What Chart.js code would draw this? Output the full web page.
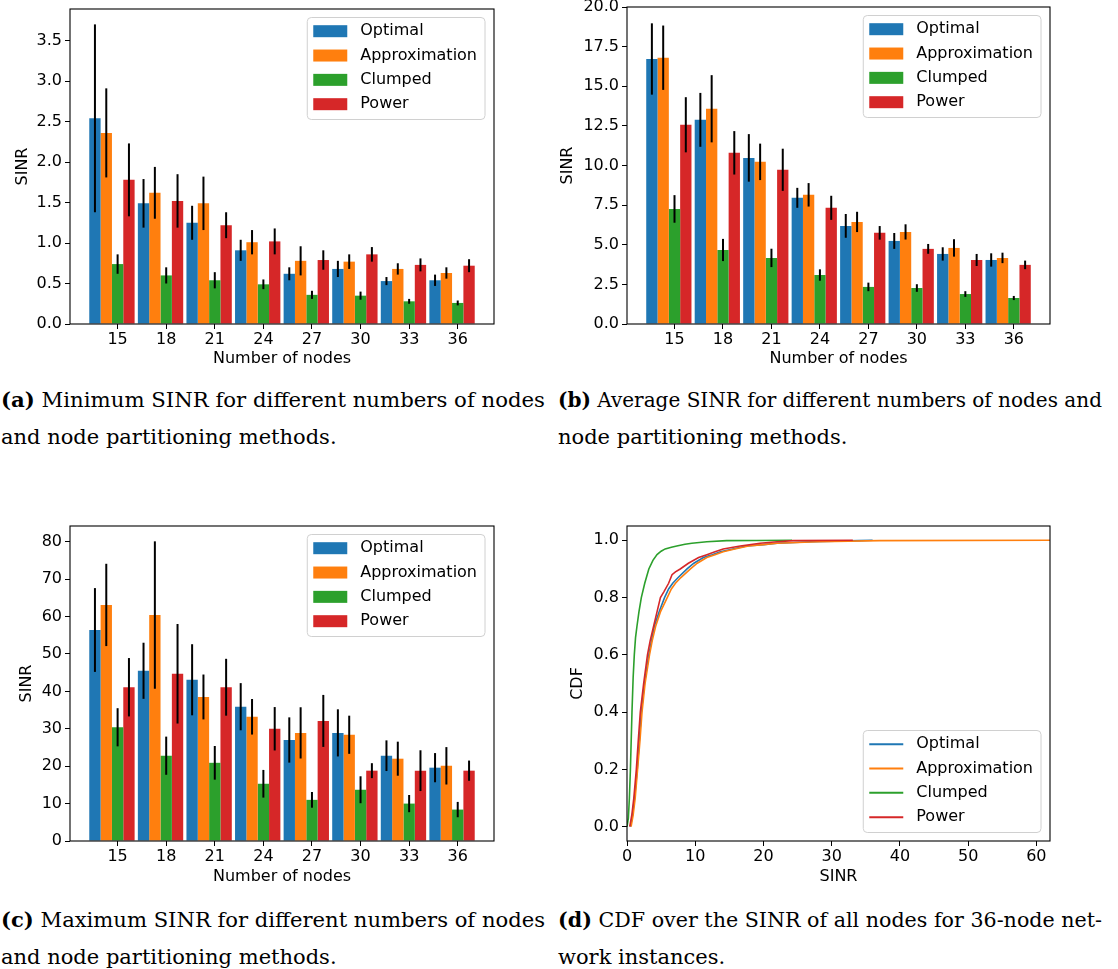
<!DOCTYPE html>
<html>
<head>
<meta charset="utf-8">
<script src="https://cdn.jsdelivr.net/npm/chart.js@4.4.0/dist/chart.umd.min.js"></script>
<style>
  html, body { margin: 0; padding: 0; background: #fff; }
  #page { position: relative; width: 1118px; height: 969px; overflow: hidden; }
  canvas { position: absolute; }
  .cap { position: absolute; font-family: 'DejaVu Serif', serif; font-size: 21px; line-height: 37px; color: #000; white-space: nowrap; }
  .cap .fit { display: inline-block; transform-origin: 0 50%; }
</style>
</head>
<body>
<div id="page">
  <canvas id="minChart" width="540" height="380" style="left:0;top:0"></canvas>
  <canvas id="avgChart" width="573" height="380" style="left:545px;top:0"></canvas>
  <canvas id="maxChart" width="540" height="395" style="left:0;top:500px"></canvas>
  <canvas id="cdfChart" width="573" height="395" style="left:545px;top:500px"></canvas>

  <div class="cap" style="left:1px;top:381px"><span class="fit"><b>(a)</b> Minimum SINR for different numbers of nodes</span><br>and node partitioning methods.</div>
  <div class="cap" style="left:558px;top:381px"><span class="fit"><b>(b)</b> Average SINR for different numbers of nodes and</span><br>node partitioning methods.</div>
  <div class="cap" style="left:1px;top:901px"><span class="fit"><b>(c)</b> Maximum SINR for different numbers of nodes</span><br>and node partitioning methods.</div>
  <div class="cap" style="left:558px;top:901px"><span class="fit"><b>(d)</b> CDF over the SINR of all nodes for 36-node net-</span><br>work instances.</div>
</div>
<script>
const nodeCounts = [15, 18, 21, 24, 27, 30, 33, 36];
const methods = ['Optimal', 'Approximation', 'Clumped', 'Power'];
const colors = ['#1f77b4', '#ff7f0e', '#2ca02c', '#d62728'];

// (a) minimum SINR, mean and error half-width
const minOptimal = [2.54, 1.49, 1.25, 0.91, 0.62, 0.68, 0.53, 0.54];
const minApprox  = [2.36, 1.62, 1.49, 1.01, 0.78, 0.77, 0.68, 0.63];
const minClumped = [0.74, 0.60, 0.54, 0.49, 0.36, 0.35, 0.28, 0.26];
const minPower   = [1.78, 1.52, 1.22, 1.02, 0.79, 0.86, 0.73, 0.72];
const minOptimalErr = [1.16, 0.30, 0.21, 0.13, 0.08, 0.10, 0.05, 0.07];
const minApproxErr  = [0.55, 0.32, 0.33, 0.15, 0.18, 0.09, 0.07, 0.07];
const minClumpedErr = [0.12, 0.10, 0.10, 0.06, 0.05, 0.05, 0.03, 0.03];
const minPowerErr   = [0.45, 0.33, 0.16, 0.16, 0.12, 0.09, 0.08, 0.08];

// (b) average SINR
const avgOptimal = [16.72, 12.88, 10.48, 7.96, 6.19, 5.24, 4.42, 4.04];
const avgApprox  = [16.80, 13.58, 10.23, 8.15, 6.44, 5.81, 4.80, 4.17];
const avgClumped = [7.26, 4.67, 4.17, 3.09, 2.34, 2.27, 1.89, 1.64];
const avgPower   = [12.57, 10.80, 9.73, 7.33, 5.75, 4.74, 4.04, 3.73];
const avgOptimalErr = [2.25, 1.70, 1.50, 0.63, 0.75, 0.50, 0.42, 0.42];
const avgApproxErr  = [2.03, 2.12, 1.15, 0.74, 0.64, 0.48, 0.55, 0.33];
const avgClumpedErr = [0.87, 0.70, 0.58, 0.36, 0.27, 0.24, 0.18, 0.13];
const avgPowerErr   = [1.74, 1.37, 1.33, 0.76, 0.43, 0.31, 0.38, 0.27];

// (c) maximum SINR
const maxOptimal = [56.4, 45.5, 43.1, 35.9, 27.0, 28.9, 22.8, 19.6];
const maxApprox  = [63.1, 60.4, 38.5, 33.2, 28.9, 28.4, 22.0, 20.1];
const maxClumped = [30.4, 22.8, 20.9, 15.3, 11.0, 13.7, 10.0, 8.4];
const maxPower   = [41.1, 44.7, 41.1, 30.0, 32.1, 18.8, 18.8, 18.8];
const maxOptimalErr = [11.2, 7.5, 9.5, 6.3, 6.05, 6.3, 4.1, 3.9];
const maxApproxErr  = [11.0, 19.7, 6.0, 4.75, 6.85, 5.1, 4.55, 5.0];
const maxClumpedErr = [5.1, 5.1, 4.5, 3.7, 2.1, 3.6, 2.3, 2.05];
const maxPowerErr   = [7.8, 13.3, 7.6, 5.8, 6.95, 2.0, 5.45, 2.7];

// (d) CDF of SINR, 36 nodes
const optimalSinr = [0.5, 0.8, 1.1, 1.5, 1.8, 2.1, 2.55, 3.2, 3.6, 4.0, 4.7, 5.5, 6.1, 6.7, 7.5, 8.8, 9.8, 11.2, 12.5, 13.7, 15.5, 17.5, 20.0, 22.0, 27.0, 34.0, 36.0];
const optimalCdf  = [0, 0.04, 0.1, 0.2, 0.3, 0.4, 0.5, 0.6, 0.65, 0.7, 0.75, 0.8, 0.83, 0.85, 0.87, 0.9, 0.92, 0.94, 0.95, 0.96, 0.97, 0.98, 0.985, 0.99, 0.995, 0.999, 1.0];
const approxSinr  = [0.6, 0.9, 1.2, 1.55, 1.9, 2.2, 2.65, 3.3, 3.7, 4.2, 4.9, 5.9, 6.5, 7.1, 7.9, 9.3, 10.3, 11.7, 12.9, 14.1, 15.8, 17.8, 20.0, 22.0, 28.0, 37.0, 62.0];
const approxCdf   = [0, 0.04, 0.1, 0.2, 0.3, 0.4, 0.5, 0.6, 0.65, 0.7, 0.75, 0.8, 0.83, 0.85, 0.87, 0.9, 0.92, 0.94, 0.95, 0.96, 0.97, 0.98, 0.985, 0.99, 0.995, 0.999, 1.0];
const clumpedSinr = [0, 0.2, 0.35, 0.5, 0.73, 0.9, 1.07, 1.25, 1.46, 1.75, 2.1, 2.6, 3.2, 3.8, 4.4, 5.0, 5.6, 6.5, 7.3, 8.5, 9.5, 11.7, 14.6, 19.0, 24.2];
const clumpedCdf  = [0, 0.03, 0.1, 0.2, 0.4, 0.52, 0.6, 0.66, 0.7, 0.75, 0.8, 0.85, 0.9, 0.93, 0.95, 0.962, 0.97, 0.976, 0.98, 0.986, 0.99, 0.995, 0.999, 0.9995, 1.0];
const powerSinr   = [0.4, 0.7, 1.0, 1.37, 1.65, 1.95, 2.44, 3.0, 3.4, 3.9, 4.4, 4.9, 5.4, 6.1, 6.6, 7.1, 7.8, 9.0, 10.5, 11.7, 12.9, 14.1, 16.6, 19.5, 22.0, 24.4, 33.1];
const powerCdf    = [0, 0.04, 0.1, 0.2, 0.3, 0.4, 0.5, 0.6, 0.65, 0.7, 0.75, 0.8, 0.82, 0.85, 0.88, 0.89, 0.9, 0.92, 0.94, 0.95, 0.96, 0.97, 0.98, 0.99, 0.995, 0.999, 1.0];

// tick labels
const minTicks = [0, 0.5, 1.0, 1.5, 2.0, 2.5, 3.0, 3.5];
const avgTicks = [0, 2.5, 5.0, 7.5, 10.0, 12.5, 15.0, 17.5, 20.0];
const maxTicks = [0, 10, 20, 30, 40, 50, 60, 70, 80];
const cdfTicks = [0, 0.2, 0.4, 0.6, 0.8, 1.0];
const sinrTicks = [0, 10, 20, 30, 40, 50, 60];

// first caption lines are set to the full column width, like justified text
function fitCaptions() {
  document.querySelectorAll('.cap .fit').forEach(el => {
    el.style.transform = 'none';
    const w = el.getBoundingClientRect().width;
    el.style.transform = 'scaleX(' + (544 / w) + ')';
  });
}
fitCaptions();
document.fonts.ready.then(fitCaptions);

Chart.defaults.font.family = 'DejaVu Sans';
Chart.defaults.font.size = 16;
Chart.defaults.color = '#000';

// frame, error bars and a matplotlib-like legend
const mplDecor = {
  id: 'mplDecor',
  afterDatasetsDraw(chart) {
    const ctx = chart.ctx;
    const y = chart.scales.y;
    ctx.save();
    ctx.strokeStyle = '#000';
    ctx.lineWidth = 2;
    chart.data.datasets.forEach((ds, i) => {
      if (!ds.errors) return;
      chart.getDatasetMeta(i).data.forEach((bar, j) => {
        const v = ds.data[j].y, e = ds.errors[j];
        ctx.beginPath();
        ctx.moveTo(bar.x, y.getPixelForValue(v - e));
        ctx.lineTo(bar.x, y.getPixelForValue(v + e));
        ctx.stroke();
      });
    });
    ctx.restore();
  },
  afterDraw(chart, args, opts) {
    const ctx = chart.ctx;
    const a = chart.chartArea;
    ctx.save();
    ctx.strokeStyle = '#000';
    ctx.lineWidth = 1.1;
    ctx.strokeRect(a.left, a.top, a.right - a.left, a.bottom - a.top);

    const items = chart.data.datasets.filter(ds => ds.label);
    ctx.font = '16px "DejaVu Sans"';
    const textW = Math.max(...items.map(d => ctx.measureText(d.label).width));
    const w = 6 + 34 + 13 + textW + 8;
    const h = 102;
    const x0 = a.right - 9 - w;
    const y0 = opts.corner === 'se' ? a.bottom - 8.5 - h : a.top + 8.5;
    ctx.beginPath();
    ctx.roundRect(x0, y0, w, h, 4);
    ctx.fillStyle = 'rgba(255,255,255,0.8)';
    ctx.fill();
    ctx.strokeStyle = '#d0d0d0';
    ctx.lineWidth = 1;
    ctx.stroke();
    items.forEach((ds, k) => {
      const ry = y0 + 13.7 + k * 24.33;
      if (opts.handle === 'line') {
        ctx.strokeStyle = ds.borderColor;
        ctx.lineWidth = 2;
        ctx.beginPath();
        ctx.moveTo(x0 + 6, ry);
        ctx.lineTo(x0 + 40, ry);
        ctx.stroke();
      } else {
        ctx.fillStyle = ds.backgroundColor;
        ctx.fillRect(x0 + 6, ry - 6, 34, 12);
      }
      ctx.fillStyle = '#000';
      ctx.textBaseline = 'middle';
      ctx.textAlign = 'left';
      ctx.fillText(ds.label, x0 + 53, ry);
    });
    ctx.restore();
  }
};
Chart.register(mplDecor);

function fixedAxis(size, horizontal) {
  return function (scale) {
    if (horizontal) scale.height = size; else scale.width = size;
    scale.paddingLeft = scale.paddingRight = scale.paddingTop = scale.paddingBottom = 0;
  };
}

function axisOptions(p) {
  const half = 9.6;
  const yLeft = p.yTitleX - half;
  const common = {
    type: 'linear',
    offset: false,
    border: { display: false },
    grid: { drawOnChartArea: false, offset: false, tickLength: 5, color: '#000', lineWidth: 1 }
  };
  return {
    responsive: false,
    animation: false,
    layout: {
      padding: {
        left: yLeft - p.canvas.left,
        top: p.frame.top - p.canvas.top,
        right: p.canvas.left + p.canvas.width - p.frame.right,
        bottom: p.canvas.top + p.canvas.height - (p.xTitleY + half)
      }
    },
    plugins: {
      legend: { display: false },
      tooltip: { enabled: false },
      mplDecor: { corner: p.corner, handle: p.handle }
    },
    scales: {
      x: Object.assign({}, common, {
        min: p.xMin, max: p.xMax,
        afterBuildTicks: s => { s.ticks = p.xTicks.map(v => ({ value: v })); },
        afterFit: fixedAxis(p.xTitleY + half - p.frame.bottom, true),
        ticks: { padding: 1, maxRotation: 0, autoSkip: false, callback: v => p.xFmt(v) },
        title: { display: true, text: p.xTitle, padding: 0 }
      }),
      y: Object.assign({}, common, {
        min: p.yMin, max: p.yMax,
        afterBuildTicks: s => { s.ticks = p.yTicks.map(v => ({ value: v })); },
        afterFit: fixedAxis(p.frame.left - yLeft, false),
        ticks: { padding: 3, autoSkip: false, callback: v => p.yFmt(v) },
        title: { display: true, text: p.yTitle, padding: 0 }
      })
    }
  };
}

function barDatasets(values, errors) {
  const sets = methods.map((m, k) => ({
    label: m,
    data: nodeCounts.map((n, i) => ({ x: n, y: values[k][i] })),
    errors: errors[k],
    backgroundColor: colors[k],
    borderWidth: 0,
    barPercentage: 1,
    categoryPercentage: 7 / 6
  }));
  // empty fifth slot so the tick sits under the third bar, as in the original
  sets.push({ label: '', data: [], barPercentage: 1, categoryPercentage: 7 / 6 });
  return sets;
}

const oneDec = v => v.toFixed(1);
const noDec = v => v.toFixed(0);

function barPanel(id, canvas, frame, yTitleX, xTitleY, yMax, yTicks, yFmt, values, errors) {
  new Chart(document.getElementById(id), {
    type: 'bar',
    data: { datasets: barDatasets(values, errors) },
    options: axisOptions({
      canvas, frame, yTitleX, xTitleY, corner: 'ne', handle: 'bar',
      xMin: 12.06, xMax: 38.24, xTicks: nodeCounts, xFmt: noDec, xTitle: 'Number of nodes',
      yMin: 0, yMax, yTicks, yFmt, yTitle: 'SINR'
    })
  });
}

barPanel('minChart', { left: 0, top: 0, width: 540, height: 380 },
  { left: 70, right: 494, top: 9, bottom: 324 }, 22.5, 359, 3.89, minTicks, oneDec,
  [minOptimal, minApprox, minClumped, minPower],
  [minOptimalErr, minApproxErr, minClumpedErr, minPowerErr]);

barPanel('avgChart', { left: 545, top: 0, width: 573, height: 380 },
  { left: 627, right: 1050, top: 7, bottom: 324 }, 568, 359, 20, avgTicks, oneDec,
  [avgOptimal, avgApprox, avgClumped, avgPower],
  [avgOptimalErr, avgApproxErr, avgClumpedErr, avgPowerErr]);

barPanel('maxChart', { left: 0, top: 500, width: 540, height: 395 },
  { left: 70, right: 494, top: 526, bottom: 841 }, 27, 877, 84.2, maxTicks, noDec,
  [maxOptimal, maxApprox, maxClumped, maxPower],
  [maxOptimalErr, maxApproxErr, maxClumpedErr, maxPowerErr]);

const cdfX = [optimalSinr, approxSinr, clumpedSinr, powerSinr];
const cdfY = [optimalCdf, approxCdf, clumpedCdf, powerCdf];
new Chart(document.getElementById('cdfChart'), {
  type: 'line',
  data: {
    datasets: methods.map((m, k) => ({
      label: m,
      data: cdfX[k].map((x, i) => ({ x, y: cdfY[k][i] })),
      borderColor: colors[k],
      backgroundColor: colors[k],
      borderWidth: 1.6,
      pointRadius: 0,
      tension: 0,
      fill: false,
      order: 4 - k
    }))
  },
  options: axisOptions({
    canvas: { left: 545, top: 500, width: 573, height: 395 },
    frame: { left: 627, right: 1050, top: 526, bottom: 841 },
    yTitleX: 578, xTitleY: 877, corner: 'se', handle: 'line',
    xMin: 0, xMax: 62, xTicks: sinrTicks, xFmt: noDec, xTitle: 'SINR',
    yMin: -0.05, yMax: 1.05, yTicks: cdfTicks, yFmt: oneDec, yTitle: 'CDF'
  })
});
</script>
</body>
</html>
